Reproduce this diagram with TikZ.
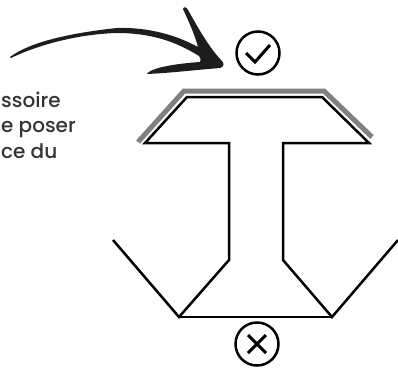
\documentclass[tikz,border=0pt]{standalone}
\usepackage{fontspec}
\setmainfont{Poppins Medium}
\usepackage{tikz}
\definecolor{InkColor}{RGB}{30,28,28}
\definecolor{TextColor}{RGB}{51,51,56}
\definecolor{EdgeGray}{RGB}{128,128,130}
\tikzset{
    profil/.style={line width=2.5pt, black, line join=miter},
    joint/.style={line width=5pt, EdgeGray, line join=miter},
    pastille/.style={circle, draw=black, line width=2.5pt, minimum size=43pt, inner sep=0pt},
    signe/.style={line width=3pt, black, line join=miter},
    legende/.style={anchor=base west, inner sep=0pt, font=\fontsize{20pt}{25.5pt}\selectfont, text=TextColor, align=left},
}
\begin{document}
\begin{tikzpicture}[x=1pt, y=-1pt]
    \useasboundingbox (0,0) rectangle (398,367);
    % fleche
    \fill[InkColor] (10,57) .. controls (30,42) and (70,33) .. (117,28)
        .. controls (150,27) and (178,36) .. (198,47)
        .. controls (195,35) and (188,20) .. (183,9)
        .. controls (184,6) and (186,7) .. (188,10)
        .. controls (197,26) and (208,46) .. (221,60)
        .. controls (225,63) and (224,67) .. (220,68)
        .. controls (195,70) and (170,73) .. (147,74)
        .. controls (149,69) and (170,64) .. (200,62)
        .. controls (201,60) and (201,58) .. (199,56)
        .. controls (175,41) and (150,33) .. (117,33)
        .. controls (80,34) and (40,44) .. (11,58) -- cycle;
    % texte
    \node[legende] (notice) at (1,158) {ssoire\\e poser\\ce du};
    % profil
    \draw[joint] (138,142) -- (184,91) -- (324,91) -- (372,137);
    \draw[profil] (113,240) -- (179,317) -- (229,260) -- (229,143) -- (145,143)
        -- (187,97) -- (322,97) -- (369,143) -- (283,143) -- (283,260) -- (332,317) -- (398,240);
    \draw[profil] (179,317) -- (332,317);
    % pastilles
    \node[pastille] (ok) at (258,53) {};
    \draw[signe] ([shift={(-12,0)}]ok.center) -- ([shift={(-3,9)}]ok.center) -- ([shift={(12,-8)}]ok.center);
    \node[pastille] (non) at (257,344) {};
    \draw[signe] ([shift={(-9,-9)}]non.center) -- ([shift={(9,9)}]non.center);
    \draw[signe] ([shift={(-9,9)}]non.center) -- ([shift={(9,-9)}]non.center);
\end{tikzpicture}
\end{document}
